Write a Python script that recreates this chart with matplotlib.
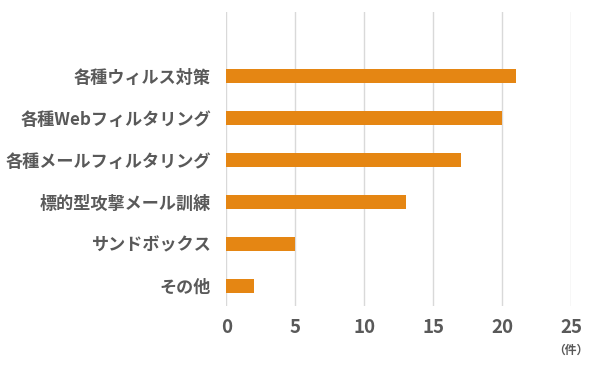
import matplotlib.pyplot as plt

plt.rcParams['font.family'] = ['Noto Sans CJK JP', 'DejaVu Sans']

categories = ['その他', 'サンドボックス', '標的型攻撃メール訓練',
              '各種メールフィルタリング', '各種Webフィルタリング', '各種ウィルス対策']
counts = [2, 5, 13, 17, 20, 21]
xticks = [0, 5, 10, 15, 20, 25]

fig = plt.figure(figsize=(6, 3.65), dpi=100)
ax = fig.add_axes([0.377, 0.162, 0.575, 0.805])

ax.barh(range(len(categories)), counts, height=0.34, color='#E58613', zorder=3)

ax.set_xlim(0, 25)
ax.set_ylim(-0.48, 6.52)
ax.set_xticks(xticks)
ax.set_yticks(range(len(categories)))
ax.set_yticklabels(categories)
ax.grid(axis='x', color='#d9d9d9', linewidth=1, zorder=0)
for s in ax.spines.values():
    s.set_visible(False)
ax.tick_params(axis='both', length=0, colors='#595959')
ax.tick_params(axis='y', pad=11, labelsize=12.3)
ax.tick_params(axis='x', pad=9, labelsize=13.5)
for lab in ax.get_xticklabels() + ax.get_yticklabels():
    lab.set_fontweight('bold')

fig.text(0.952, 0.04, '（件）', ha='center', va='center', fontsize=8.5,
         color='#595959', fontweight='bold')

fig.savefig('out.png')
